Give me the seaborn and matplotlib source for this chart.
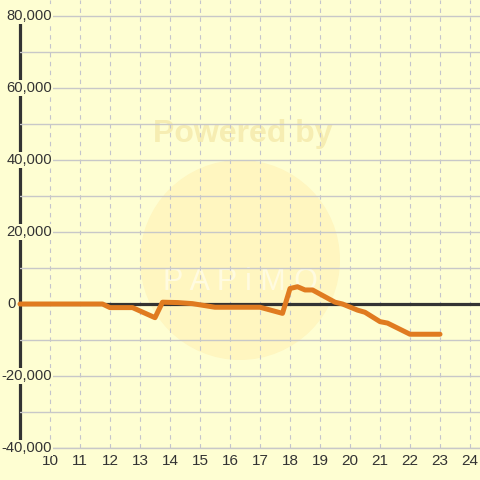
"""Cumulative balance by hour, drawn in the style of the reference chart."""

import matplotlib
matplotlib.use("Agg")
import matplotlib.pyplot as plt
import matplotlib.transforms as mtransforms
from matplotlib.patches import Circle
import seaborn as sns

# Data
hours = [9.0, 11.75, 12.0, 12.75, 13.5, 13.75, 14.25, 14.75, 15.5, 17.0,
         17.75, 18.0, 18.25, 18.5, 18.75, 19.5, 19.75, 20.25, 20.5, 21.0,
         21.25, 22.0, 23.0]
balance = [0, 0, -1000, -1000, -3800, 500, 400, 100, -900, -900,
           -2600, 4300, 4800, 3900, 3900, 500, 0, -1700, -2300, -4900,
           -5300, -8400, -8400]
x_ticks = list(range(10, 25))
y_ticks = [-40000, -20000, 0, 20000, 40000, 60000, 80000]
y_minor = [-30000, -10000, 10000, 30000, 50000, 70000]

BG = "#FEFED2"
TEXT = "#333333"

sns.set_style("white")
plt.rcParams["font.family"] = ["Liberation Sans", "DejaVu Sans"]

fig = plt.figure(figsize=(4.8, 4.8), dpi=100, facecolor=BG)
ax = fig.add_axes([20 / 480, 32 / 480, 460 / 480, 448 / 480])
ax.set_facecolor(BG)

# faint watermark behind the grid
ax.add_patch(Circle((240 / 480, 1 - 260 / 480), 100 / 480,
                    transform=fig.transFigure, facecolor="#FFF6C0",
                    edgecolor="none", zorder=0.1, clip_on=False))
ax.text(243 / 480, 1 - 134 / 480, "Powered by", transform=fig.transFigure,
        ha="center", va="center", fontsize=23, fontweight="bold",
        color="#F6EDB2", zorder=0.2)
ax.text(240 / 480, 1 - 282 / 480, "P A P i M O", transform=fig.transFigure,
        ha="center", va="center", fontsize=22, color="#FFFBE0", zorder=0.2)

sns.lineplot(x=hours, y=balance, ax=ax, color="#E07B20", linewidth=3.6,
             zorder=4, clip_on=False)
ax.axhline(0, color=TEXT, linewidth=2.3, zorder=3)

ax.set_xlim(9, 9 + 460 / 30)
ax.set_ylim(-40000, -40000 + 448 * 120000 / 432)
ax.set_xticks(x_ticks)
ax.set_yticks(y_ticks)
ax.set_yticks(y_minor, minor=True)
ax.set_axisbelow(False)

ax.grid(axis="y", which="both", color="#C8C8C8", linewidth=1.0)
ax.grid(axis="x", which="major", color="#C4C4CC", linewidth=0.8,
        linestyle=(0, (4, 4)))
ax.tick_params(axis="both", which="both", length=0)
ax.tick_params(axis="x", pad=4, labelsize=11, labelcolor=TEXT)
ax.tick_params(axis="y", labelleft=False)

for side in ["top", "right"]:
    ax.spines[side].set_visible(False)
ax.spines["bottom"].set_color("#C8C8C8")
ax.spines["bottom"].set_linewidth(1.0)
ax.spines["left"].set_color(TEXT)
ax.spines["left"].set_linewidth(2.3)
ax.spines["left"].set_bounds(-40000, 77800)

# y labels sit over the plot area, each on a background patch
trans = mtransforms.blended_transform_factory(fig.transFigure, ax.transData)
for v in y_ticks:
    xpos = 16 / 480 if v == 0 else 52 / 480
    ax.text(xpos, v, f"{v:,}", transform=trans, ha="right", va="center",
            fontsize=10.6, color=TEXT, zorder=3.5, clip_on=False,
            bbox=dict(facecolor=BG, edgecolor="none", pad=0.5))

fig.savefig("out.png", dpi=100, facecolor=BG)
